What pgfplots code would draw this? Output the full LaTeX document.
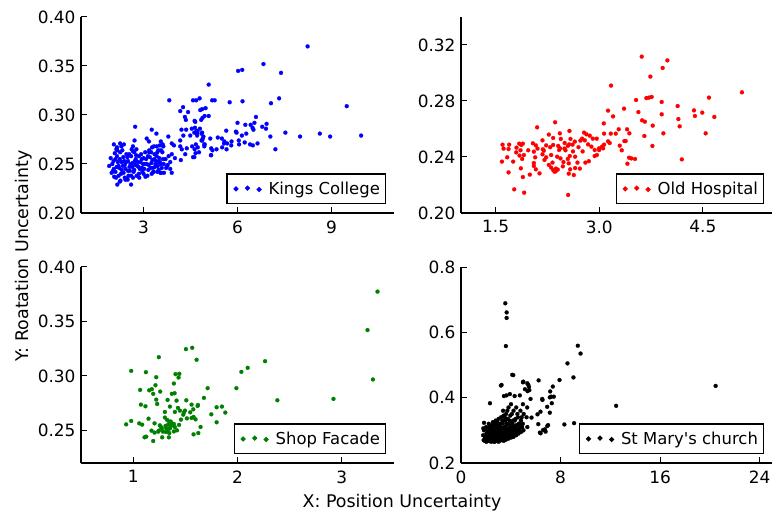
\documentclass[border=0pt]{standalone}
\usepackage{pgfplots}
\pgfplotsset{compat=1.18}
\usepackage{fontspec}
\setmainfont{DejaVu Sans}[Ligatures=TeXOff]
\definecolor{mgreen}{rgb}{0,0.5,0}
\pgfplotsset{
 myax/.style={
  scale only axis, height=196bp,
  axis x line*=bottom, axis y line*=left,
  axis line style={-, line width=1.2bp, black},
  tick align=inside, tick style={black, line width=1bp}, major tick length=6bp,
  every tick label/.append style={font=\fontsize{17}{20}\selectfont},
  xticklabel style={yshift=-4bp},
  yticklabel style={xshift=-2bp},
  /pgf/number format/assume math mode=true,
  legend cell align=left,
  legend style={at={(1,0)}, anchor=south east, xshift=-8bp, yshift=8.5bp, draw=black, line width=1.2bp,
    inner xsep=3bp, inner ysep=5.5bp, font=\fontsize{16.5}{19}\selectfont, nodes={inner sep=2.5bp}},
  legend image code/.code={\path[draw=none,fill=none] (-6bp,0bp) -- (30bp,0bp); \fill (0bp,0bp) circle[radius=1.9bp]; \fill (11.5bp,0.8bp) circle[radius=1.9bp]; \fill (23bp,-0.6bp) circle[radius=1.9bp];},
 },
 dots/.style={only marks, mark=*, mark size=2bp, mark options={line width=0.2bp}},
}
\begin{document}
\begin{tikzpicture}
\useasboundingbox (0,0) rectangle (774bp,513bp);
% ---------------- Kings College
\begin{axis}[myax, at={(81bp,300bp)}, anchor=south west, width=313bp,
  xmin=1, xmax=11, ymin=0.20, ymax=0.40, xtick={3,6,9}, ytick={0.20,0.25,0.30,0.35,0.40},
  yticklabel style={/pgf/number format/.cd, fixed, fixed zerofill, precision=2}]
\addplot[dots, blue] coordinates {
(8.24,0.370)(6.83,0.352)(6.02,0.345)(6.15,0.346)(7.39,0.343)(5.08,0.331)(4.58,0.315)(4.68,0.315)(4.79,0.317)(5.19,0.315)(5.27,0.315)(5.75,0.313)(6.16,0.314)(7.07,0.312)(7.33,0.317)(9.49,0.309)(9.95,0.279)(8.96,0.278)(8.63,0.281)(8.0,0.278)(7.53,0.282)(7.21,0.265)(7.05,0.278)(6.93,0.291)(6.91,0.286)(6.79,0.288)(6.59,0.298)(6.54,0.292)(6.48,0.287)(6.51,0.285)(6.42,0.290)(6.25,0.290)(6.0,0.292)(5.95,0.283)(5.97,0.282)(6.28,0.281)(6.14,0.279)(5.64,0.284)(6.64,0.271)(6.49,0.269)(6.40,0.270)(6.23,0.272)(6.04,0.274)(6.05,0.270)(5.81,0.273)(5.80,0.269)(5.67,0.271)(5.58,0.273)(5.57,0.271)(5.65,0.265)(5.51,0.267)(5.37,0.277)(5.50,0.276)(5.13,0.276)(5.16,0.266)(5.20,0.264)(5.33,0.265)(5.16,0.259)(4.95,0.270)(4.94,0.268)(4.85,0.274)(4.89,0.276)(4.87,0.282)(4.72,0.283)(4.71,0.279)(4.65,0.293)(4.70,0.284)(4.80,0.286)(4.64,0.287)(4.84,0.295)(4.88,0.297)(4.95,0.299)(5.08,0.299)(4.98,0.307)(4.81,0.305)(4.87,0.306)(4.42,0.303)(4.32,0.298)(4.35,0.295)(4.17,0.304)(4.26,0.308)(4.63,0.294)(4.36,0.285)(4.21,0.285)(4.54,0.286)(4.62,0.282)(4.49,0.279)(4.70,0.281)(4.27,0.279)(4.17,0.274)(4.85,0.281)(4.91,0.278)(4.87,0.274)(4.94,0.270)(4.67,0.270)(4.55,0.268)(4.63,0.265)(4.73,0.267)(4.77,0.262)(4.66,0.261)(4.58,0.257)(4.62,0.257)(5.15,0.259)(4.17,0.268)(4.22,0.265)(4.33,0.260)(4.38,0.266)(4.19,0.254)
(3.82,0.315)(2.73,0.288)(3.26,0.285)(3.41,0.281)(3.10,0.276)(3.17,0.273)(2.71,0.274)(3.55,0.273)(3.61,0.270)(3.52,0.269)(3.79,0.278)(2.05,0.270)(2.25,0.271)(2.29,0.268)(2.37,0.270)(2.15,0.267)(2.13,0.265)(2.66,0.268)(2.77,0.265)(2.66,0.263)(3.18,0.264)(3.27,0.267)(3.33,0.268)(3.42,0.268)(3.47,0.264)(3.56,0.264)(3.63,0.268)(3.90,0.271)(3.97,0.269)(3.77,0.249)(3.85,0.245)(3.90,0.241)(3.65,0.241)(3.31,0.242)(3.44,0.242)(3.56,0.241)(2.16,0.229)(2.24,0.232)(2.49,0.234)(2.60,0.229)(2.42,0.234)
(2.0,0.250)(2.05,0.245)(2.1,0.255)(2.1,0.242)(2.15,0.258)(2.2,0.248)(2.2,0.238)(2.25,0.262)(2.3,0.252)(2.3,0.244)(2.35,0.257)(2.4,0.236)(2.4,0.249)(2.45,0.260)(2.5,0.243)(2.5,0.253)(2.55,0.247)(2.6,0.238)(2.6,0.258)(2.65,0.251)(2.7,0.244)(2.7,0.262)(2.75,0.255)(2.8,0.248)(2.85,0.240)(2.85,0.258)(2.9,0.252)(2.95,0.246)(3.0,0.256)(3.0,0.240)(3.05,0.262)(3.1,0.250)(3.15,0.244)(3.2,0.257)(3.25,0.251)(3.3,0.246)(3.35,0.260)(3.4,0.253)(3.45,0.248)(3.5,0.256)(3.55,0.250)(3.6,0.262)(3.7,0.255)(3.75,0.248)(3.8,0.258)
(1.95,0.256)(2.02,0.243)(2.08,0.261)(2.12,0.236)(2.18,0.252)(2.22,0.246)(2.28,0.240)(2.32,0.264)(2.38,0.253)(2.42,0.245)(2.48,0.257)(2.52,0.238)(2.58,0.250)(2.62,0.265)(2.68,0.242)(2.72,0.253)(2.78,0.238)(2.82,0.252)(2.88,0.245)(2.92,0.260)(2.98,0.250)(3.02,0.245)(3.08,0.255)(3.12,0.238)(3.18,0.262)(3.22,0.246)(3.28,0.254)(3.32,0.242)(3.38,0.250)(3.42,0.258)(3.48,0.244)(3.52,0.252)(3.58,0.246)(3.62,0.255)
(1.9,0.248)(1.98,0.241)(2.04,0.253)(2.06,0.237)(2.14,0.247)(2.16,0.264)(2.24,0.255)(2.26,0.233)(2.34,0.248)(2.36,0.241)(2.44,0.252)(2.46,0.235)(2.54,0.260)(2.56,0.243)(2.64,0.247)(2.66,0.236)(2.74,0.249)(2.76,0.259)(2.84,0.247)(2.86,0.236)(2.94,0.255)(2.96,0.242)(3.04,0.250)(3.06,0.237)(3.14,0.258)(3.16,0.249)(3.24,0.262)(3.26,0.240)(3.34,0.255)(3.36,0.247)(3.44,0.262)(3.46,0.252)(3.54,0.241)(3.64,0.250)(3.72,0.246)(3.85,0.252)(3.9,0.260)(4.0,0.256)
};
\addlegendentry{Kings College}
\end{axis}
% ---------------- Old Hospital
\begin{axis}[myax, at={(461bp,300bp)}, anchor=south west, width=311bp,
  xmin=1, xmax=5.5, ymin=0.20, ymax=0.34, xtick={1.5,3.0,4.5}, ytick={0.20,0.24,0.28,0.32},
  xticklabel style={/pgf/number format/.cd, fixed, fixed zerofill, precision=1},
  yticklabel style={/pgf/number format/.cd, fixed, fixed zerofill, precision=2}]
\addplot[dots, red] coordinates {
(3.615,0.3117)(3.986,0.309)(3.918,0.3036)(3.740,0.2974)(3.171,0.291)(5.065,0.2862)(4.588,0.2824)(3.533,0.2807)(3.682,0.2821)(3.720,0.2824)(3.759,0.2829)(3.904,0.2793)(4.135,0.2764)(4.371,0.2733)(4.491,0.2717)(4.385,0.2693)(4.665,0.2686)(4.145,0.2671)(4.164,0.2619)(3.566,0.2721)(3.359,0.2745)(3.128,0.2731)(3.200,0.2690)(3.62,0.2662)(3.66,0.2652)(3.904,0.2705)(3.774,0.2624)(3.928,0.2569)(3.653,0.2550)(3.769,0.2479)(4.540,0.2569)(4.195,0.2383)
(3.066,0.264)(3.070,0.2567)(3.167,0.2567)(3.239,0.2567)(3.403,0.2598)(3.436,0.2569)(3.282,0.2598)(3.364,0.2514)(3.383,0.2514)(3.128,0.2512)(3.152,0.2500)(3.297,0.2481)(3.326,0.2448)(3.070,0.2488)(3.056,0.2462)(2.999,0.2450)(2.966,0.2414)(2.935,0.2407)(3.432,0.2395)(3.465,0.2390)(3.518,0.2386)(3.408,0.2352)
(2.781,0.2574)(2.815,0.2562)(2.863,0.2552)(2.907,0.2531)(2.964,0.2531)(2.752,0.2531)(2.728,0.2517)(2.791,0.2519)(2.839,0.2490)(2.887,0.2474)(2.935,0.2450)(2.998,0.2462)(3.041,0.2474)
(2.362,0.2648)(2.569,0.2586)(2.102,0.2612)(2.271,0.2560)(2.333,0.2536)(2.444,0.2529)(2.43,0.2569)(2.584,0.2529)(2.647,0.2510)(2.614,0.2488)(2.564,0.2490)(2.179,0.2519)(2.232,0.2483)(2.333,0.2486)(2.406,0.2479)
(2.04,0.2498)(2.083,0.2483)(1.895,0.2495)(1.842,0.2495)(1.697,0.2488)(1.601,0.2488)(1.616,0.2460)(1.688,0.2457)(1.803,0.2467)(1.861,0.2448)(1.799,0.2433)(1.847,0.2410)(1.885,0.2386)(1.669,0.2398)(1.592,0.2367)(1.755,0.2367)(1.688,0.2290)(1.866,0.2319)(1.895,0.2257)(1.77,0.2169)(1.914,0.2145)(2.55,0.2129)(1.996,0.2274)(2.136,0.2283)
(2.054,0.2438)(2.073,0.2398)(2.184,0.2455)(2.179,0.2419)(2.232,0.2398)(2.208,0.2379)(2.054,0.2357)(2.054,0.2336)(2.083,0.2312)
(2.271,0.2343)(2.304,0.2324)(2.333,0.2307)(2.353,0.2295)(2.372,0.2317)(2.324,0.2360)(2.391,0.2402)(2.42,0.2450)(2.439,0.2390)
(2.497,0.2460)(2.545,0.2479)(2.574,0.2407)(2.545,0.2386)(2.559,0.2355)(2.579,0.2312)(2.559,0.2281)(2.632,0.2271)(2.651,0.2321)(2.719,0.2317)(2.685,0.2360)(2.651,0.2402)
(2.473,0.2333)(2.482,0.2364)(2.304,0.2414)(2.198,0.2445)(2.107,0.2460)(2.434,0.2462)(2.512,0.2448)(1.91,0.2414)(1.972,0.2448)(1.871,0.2486)
(2.35,0.2305)(2.37,0.2298)(2.40,0.2310)(2.62,0.2440)(2.70,0.2470)(2.76,0.2440)(2.85,0.2370)(2.80,0.2360)(2.50,0.2500)(2.29,0.2470)
};
\addlegendentry{Old Hospital}
\end{axis}
% ---------------- Shop Facade
\begin{axis}[myax, at={(81bp,50bp)}, anchor=south west, width=313bp,
  xmin=0.5, xmax=3.5, ymin=0.22, ymax=0.40, xtick={1,2,3}, ytick={0.25,0.30,0.35,0.40},
  yticklabel style={/pgf/number format/.cd, fixed, fixed zerofill, precision=2}]
\addplot[dots, mgreen] coordinates {
(3.342,0.3774)(3.246,0.3421)(3.298,0.2967)(2.92,0.2789)(2.382,0.2776)(2.264,0.3135)(2.098,0.3074)(2.037,0.3037)(1.989,0.2887)(1.566,0.3258)(1.506,0.3246)(1.608,0.3148)(1.246,0.3172)(0.981,0.3046)(1.122,0.3034)(1.221,0.2988)(1.406,0.3016)(1.442,0.3019)(1.435,0.2985)
(1.214,0.2914)(1.179,0.2878)(1.154,0.2868)(1.192,0.2835)(1.067,0.2871)(1.259,0.2856)(1.39,0.2930)(1.371,0.2835)(1.397,0.2841)(1.33,0.2779)(1.221,0.2782)(1.23,0.2742)(1.416,0.2773)(1.509,0.2776)
(1.714,0.2887)(1.678,0.2798)(1.621,0.2733)(1.576,0.2693)(1.074,0.2736)(1.118,0.2721)(1.352,0.2718)(1.429,0.2706)(1.448,0.2681)(1.486,0.2663)(1.304,0.2669)(1.4,0.2669)(1.48,0.2644)
(1.515,0.2610)(1.56,0.2614)(1.579,0.2623)(1.598,0.2601)(1.8,0.2712)(1.851,0.2718)(1.883,0.2663)(1.749,0.2647)(1.8,0.2574)
(1.147,0.2607)(0.933,0.2555)(0.981,0.2586)(1.058,0.2564)(1.086,0.2552)(1.205,0.2564)(1.256,0.2546)(1.176,0.2497)(1.205,0.2479)(1.246,0.2497)(1.266,0.2531)
(1.304,0.2617)(1.326,0.2595)(1.352,0.2580)(1.336,0.2555)(1.368,0.2543)(1.39,0.2558)(1.317,0.2518)(1.352,0.2518)(1.285,0.2488)(1.314,0.2485)(1.346,0.2475)(1.275,0.2518)(1.24,0.2488)
(1.109,0.2436)(1.125,0.2442)(1.192,0.2402)(1.278,0.2436)(1.342,0.2436)(1.579,0.2463)(1.624,0.2475)(1.646,0.2531)(1.496,0.2681)(1.547,0.2666)(1.56,0.2736)(1.618,0.2724)(1.458,0.2598)
(1.35,0.2520)(1.38,0.2560)(1.40,0.2530)(1.42,0.2500)(1.33,0.2490)(1.36,0.2580)(1.39,0.2490)(1.44,0.2550)(1.31,0.2540)
};
\addlegendentry{Shop Facade}
\end{axis}
% ---------------- St Mary's church
\begin{axis}[myax, at={(461bp,50bp)}, anchor=south west, width=311bp,
  xmin=0, xmax=25, ymin=0.2, ymax=0.8, xtick={0,8,16,24}, ytick={0.2,0.4,0.6,0.8},
  yticklabel style={/pgf/number format/.cd, fixed, fixed zerofill, precision=1}]
\addplot[dots, black] coordinates {
(3.56,0.689)(3.67,0.661)(3.67,0.644)(3.61,0.558)(9.39,0.559)(9.61,0.535)(8.56,0.505)(9.04,0.462)(7.92,0.454)(6.24,0.453)(4.12,0.470)(3.21,0.437)
(4.98,0.447)(5.33,0.444)(5.46,0.433)(5.14,0.426)(5.35,0.420)(7.17,0.419)(7.38,0.434)(7.46,0.403)(7.14,0.401)(3.45,0.405)(3.66,0.407)(3.93,0.411)(4.31,0.405)(4.73,0.407)(5.59,0.396)(6.53,0.396)
(7.25,0.403)(6.55,0.393)(7.30,0.383)(7.14,0.354)(6.93,0.372)(6.39,0.357)(6.15,0.349)(5.67,0.339)(6.21,0.319)(6.93,0.313)(6.74,0.303)(6.34,0.293)(8.31,0.318)(9.09,0.322)(10.6,0.316)
(5.01,0.449)(5.41,0.439)(5.49,0.423)(4.20,0.469)(3.26,0.439)(2.33,0.383)(1.85,0.323)(1.79,0.306)(12.47,0.375)(20.47,0.436)(6.6,0.301)(7.0,0.316)(6.4,0.291)(6.8,0.296)
(1.82,0.270)(1.78,0.285)(1.85,0.300)
(2.03,0.265)(1.97,0.275)(2.05,0.290)(2.02,0.310)(1.95,0.280)
(2.22,0.268)(2.17,0.280)(2.24,0.295)(2.19,0.305)(2.23,0.320)
(2.43,0.265)(2.37,0.272)(2.42,0.285)(2.38,0.300)(2.44,0.315)(2.36,0.278)
(2.62,0.266)(2.57,0.276)(2.64,0.288)(2.58,0.298)(2.63,0.310)(2.56,0.325)(2.61,0.283)
(2.83,0.268)(2.77,0.279)(2.82,0.290)(2.78,0.300)(2.84,0.312)(2.79,0.330)(2.76,0.285)(2.81,0.272)
(3.02,0.265)(2.97,0.273)(3.04,0.282)(2.98,0.293)(3.03,0.305)(2.96,0.318)(3.02,0.335)(3.05,0.298)
(3.22,0.270)(3.17,0.280)(3.24,0.290)(3.18,0.300)(3.23,0.310)(3.16,0.320)(3.22,0.340)(3.25,0.286)
(3.43,0.268)(3.37,0.277)(3.42,0.288)(3.38,0.296)(3.44,0.308)(3.36,0.322)(3.42,0.345)(3.38,0.360)
(3.63,0.272)(3.57,0.282)(3.62,0.292)(3.58,0.300)(3.64,0.315)(3.56,0.330)(3.62,0.350)
(3.83,0.275)(3.77,0.285)(3.82,0.295)(3.78,0.305)(3.84,0.318)(3.76,0.335)(3.82,0.370)
(4.03,0.278)(3.97,0.290)(4.02,0.300)(3.98,0.310)(4.04,0.325)(3.96,0.345)(4.02,0.380)
(4.22,0.280)(4.17,0.295)(4.24,0.310)(4.18,0.330)(4.22,0.360)
(4.43,0.285)(4.37,0.300)(4.42,0.315)(4.38,0.335)(4.44,0.370)
(4.62,0.290)(4.57,0.305)(4.64,0.320)(4.58,0.340)
(4.83,0.295)(4.77,0.310)(4.82,0.330)(4.78,0.360)
(5.02,0.300)(4.97,0.320)(5.04,0.350)(4.98,0.380)
(5.33,0.310)(5.27,0.340)(5.32,0.370)
(1.9,0.268)(1.92,0.280)(2.11,0.270)(2.08,0.285)(2.13,0.300)
(2.31,0.267)(2.28,0.275)(2.33,0.290)(2.29,0.310)
(2.51,0.270)(2.48,0.280)(2.53,0.293)(2.49,0.305)
(2.71,0.265)(2.68,0.275)(2.73,0.287)(2.69,0.295)(2.72,0.320)
(2.91,0.270)(2.88,0.280)(2.93,0.290)(2.89,0.310)(2.92,0.325)
(3.11,0.268)(3.08,0.276)(3.13,0.288)(3.09,0.300)(3.12,0.315)
(3.31,0.272)(3.28,0.283)(3.33,0.294)(3.29,0.305)(3.32,0.330)
(3.51,0.270)(3.48,0.280)(3.53,0.290)(3.49,0.310)(3.52,0.340)
(3.71,0.275)(3.68,0.288)(3.73,0.300)(3.69,0.320)(3.72,0.360)
(3.91,0.280)(3.88,0.290)(3.93,0.305)(3.89,0.330)
(4.11,0.283)(4.08,0.300)(4.13,0.320)(4.09,0.350)
(4.31,0.290)(4.28,0.305)(4.33,0.330)
(4.51,0.295)(4.48,0.315)(4.53,0.350)
(4.71,0.300)(4.68,0.320)(4.91,0.310)(4.88,0.340)
};
\addlegendentry{St Mary's church}
\end{axis}
\node[rotate=90, font=\fontsize{17.5}{20}\selectfont] at (24bp,257bp) {Y: Roatation Uncertainty};
\node[font=\fontsize{17.5}{20}\selectfont] at (402bp,10bp) {X: Position Uncertainty};
\end{tikzpicture}
\end{document}
